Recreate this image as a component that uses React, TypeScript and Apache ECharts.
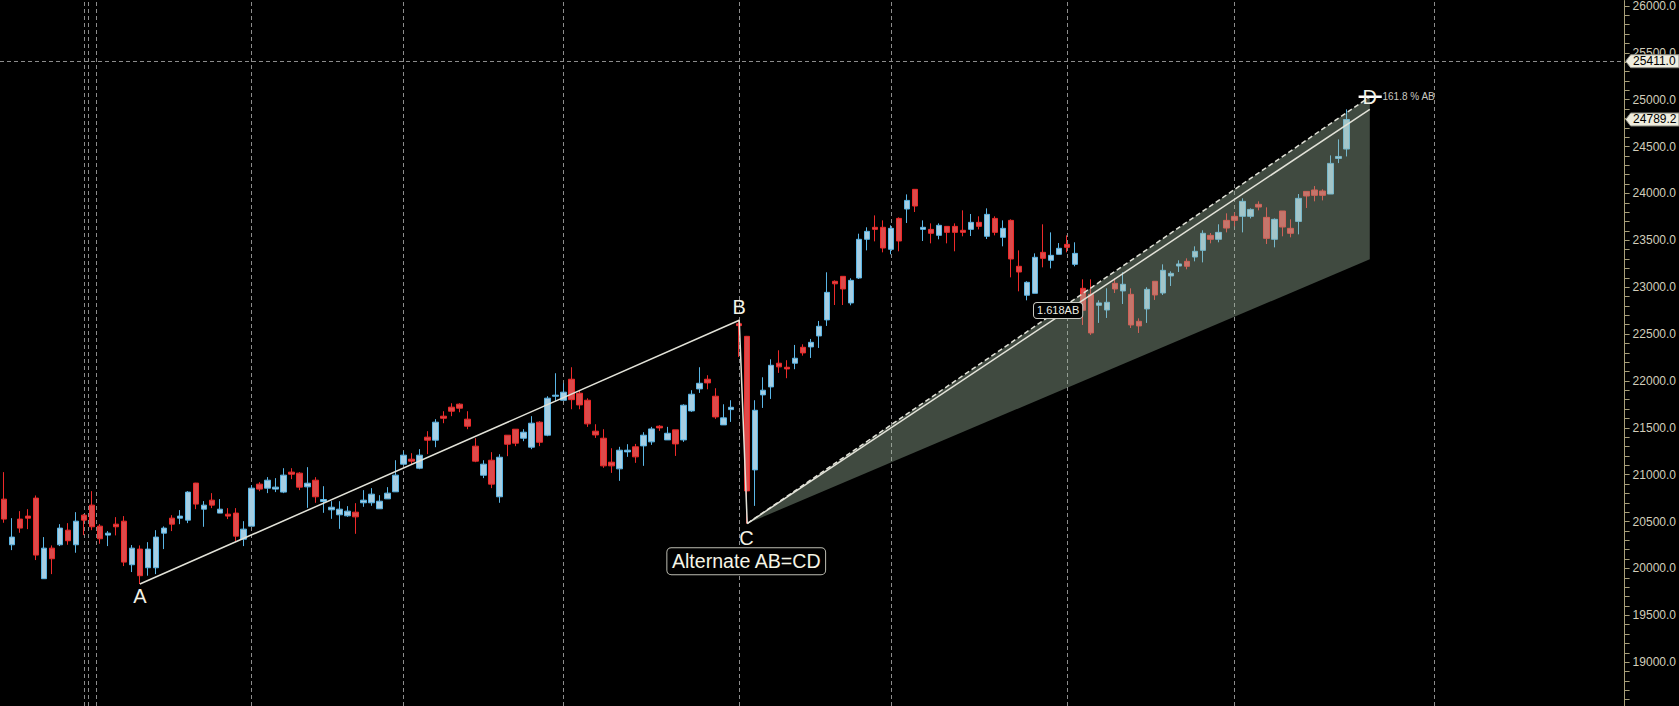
import React, { useEffect, useRef } from "react";
import * as echarts from "echarts";

// ---- Candle data ----
const opens = [
  20739, 20252, 20526, 20558, 20750, 19890, 20216, 20252, 20408, 20252,
  20568, 20675, 20451, 20355, 20472, 20504, 20039, 20206, 20007, 20007,
  20376, 20536, 20536, 20515, 20910, 20632, 20728, 20590, 20579, 20590,
  20312, 20451, 20899, 20856, 20846, 20814, 21027, 21016, 20870, 20941,
  20714, 20625, 20572, 20561, 20600, 20700, 20700, 20636, 20742, 20817,
  21112, 21165, 21069, 21400, 21368, 21624, 21720, 21752, 21592, 21304,
  20994, 21154, 20764, 21421, 21485, 21389, 21293, 21560, 21421, 21837,
  21794, 22018, 21869, 21794, 21464, 21389, 21133, 21062, 21243, 21297,
  21307, 21350, 21517, 21371, 21478, 21371, 21680, 21915, 22018, 21837,
  21531, 21694, 22610, 22476, 21051, 21851, 21936, 22189, 22146, 22189,
  22359, 22363, 22480, 22651, 23063, 23116, 22832, 23098, 23511, 23639,
  23639, 23404, 23734, 23834, 24044, 23617, 23617, 23553, 23649, 23649,
  23607, 23617, 23692, 23543, 23734, 23532, 23713, 23223, 22914, 22935,
  23372, 23287, 23351, 23457, 23244, 22988, 22924, 22807, 22757, 23041,
  22960, 22924, 22636, 22768, 23063, 22938, 23120, 23226, 23276, 23322,
  23393, 23553, 23511, 23713, 23756, 23756, 23756, 23884, 23745, 23511,
  23813, 23628, 23702, 24022, 24037, 24026, 23994, 24374, 24474,
];
const closes = [
  20526, 20334, 20430, 20536, 20142, 20216, 20103, 20430, 20295, 20504,
  20515, 20444, 20316, 20376, 20444, 20067, 20216, 19922, 20206, 20334,
  20430, 20472, 20558, 20814, 20686, 20675, 20675, 20632, 20558, 20344,
  20419, 20856, 20846, 20941, 20867, 20995, 21005, 20867, 20909, 20764,
  20735, 20653, 20632, 20611, 20550, 20728, 20792, 20717, 20803, 20995,
  21208, 21144, 21208, 21368, 21560, 21602, 21677, 21709, 21517, 21144,
  21112, 20899, 21186, 21325, 21336, 21453, 21549, 21346, 21816, 21848,
  21880, 21800, 21744, 21542, 21424, 21094, 21094, 21261, 21261, 21190,
  21421, 21488, 21499, 21442, 21328, 21741, 21858, 21975, 21979, 21616,
  21606, 21719, 22590, 20827, 21687, 21901, 22167, 22150, 22128, 22242,
  22299, 22412, 22583, 22945, 23036, 22981, 23073, 23511, 23596, 23617,
  23418, 23628, 23493, 23926, 23866, 23639, 23575, 23660, 23585, 23585,
  23585, 23692, 23649, 23777, 23585, 23628, 23301, 23162, 23052, 23319,
  23308, 23340, 23415, 23425, 23361, 22754, 22512, 22832, 22839, 22981,
  23031, 22597, 22587, 22977, 22917, 23180, 23148, 23248, 23223, 23383,
  23575, 23511, 23585, 23631, 23713, 23916, 23830, 23855, 23521, 23724,
  23642, 23575, 23948, 23973, 23980, 23980, 24321, 24395, 24789.2,
];
const lows = [
  20487, 20195, 20380, 20419, 20089, 19890, 19939, 20238, 20252, 20167,
  20355, 20408, 20263, 20238, 20352, 20025, 19961, 19833, 19922, 19939,
  20206, 20398, 20472, 20483, 20632, 20444, 20643, 20590, 20526, 20291,
  20238, 20451, 20824, 20803, 20814, 20803, 20952, 20835, 20646, 20700,
  20593, 20529, 20422, 20550, 20369, 20657, 20668, 20636, 20742, 20817,
  21101, 21112, 21058, 21219, 21293, 21549, 21624, 21666, 21485, 21133,
  20963, 20856, 20700, 21197, 21304, 21357, 21272, 21304, 21410, 21784,
  21794, 21698, 21698, 21510, 21392, 21073, 21019, 20934, 21190, 21126,
  21094, 21318, 21467, 21371, 21200, 21350, 21670, 21872, 21911, 21595,
  21531, 21563, 22256, 20479, 20667, 21712, 21808, 22086, 22029, 22125,
  22270, 22245, 22352, 22587, 22810, 22810, 22807, 23088, 23393, 23489,
  23372, 23351, 23383, 23685, 23802, 23493, 23468, 23511, 23468, 23383,
  23543, 23546, 23617, 23514, 23553, 23436, 23105, 22956, 22860, 22935,
  23212, 23201, 23351, 23372, 23223, 22597, 22491, 22619, 22672, 22938,
  22821, 22565, 22512, 22619, 22864, 22917, 23013, 23162, 23191, 23276,
  23265, 23468, 23479, 23585, 23649, 23585, 23734, 23820, 23461, 23425,
  23543, 23532, 23564, 23845, 23916, 23926, 23994, 24324, 24395,
];
const highs = [
  21027, 20536, 20611, 20632, 20778, 20334, 20245, 20472, 20483, 20600,
  20579, 20824, 20472, 20398, 20547, 20558, 20249, 20245, 20280, 20408,
  20448, 20568, 20622, 20824, 20913, 20718, 20803, 20739, 20643, 20643,
  20504, 20888, 20920, 20974, 20963, 21069, 21069, 21027, 21080, 20973,
  20877, 20717, 20717, 20664, 20696, 20835, 20856, 20781, 20867, 21154,
  21250, 21229, 21272, 21464, 21592, 21677, 21762, 21762, 21677, 21389,
  21154, 21240, 21218, 21421, 21485, 21485, 21624, 21570, 21837, 22082,
  21975, 22146, 21901, 21815, 21538, 21485, 21282, 21297, 21325, 21328,
  21453, 21510, 21528, 21510, 21478, 21751, 21901, 22146, 22061, 21922,
  21751, 21794, 22647, 22480, 21794, 22039, 22231, 22327, 22221, 22384,
  22391, 22448, 22640, 23159, 23073, 23116, 23095, 23571, 23639, 23766,
  23713, 23660, 23745, 23990, 24044, 23713, 23681, 23681, 23649, 23681,
  23820, 23781, 23756, 23841, 23756, 23713, 23724, 23393, 23063, 23361,
  23671, 23585, 23471, 23553, 23479, 23084, 23084, 22860, 22988, 23095,
  23159, 22988, 22668, 22999, 23063, 23244, 23169, 23287, 23308, 23436,
  23607, 23578, 23671, 23788, 23798, 23948, 23841, 23916, 23852, 23734,
  23813, 23724, 23994, 24022, 24079, 24044, 24406, 24577, 24897,
];

// total slots on the time axis (candles + empty future space)
const TOTAL_SLOTS = 203;
const categories = Array.from({ length: TOTAL_SLOTS }, (_, i) => `D${i + 1}`);

// ---- Pattern (Alternate AB=CD) ----
const patternLabels = ["A", "B", "C"];
const patternIdx = [17, 92, 93];
const patternVal = [19833, 22647, 20479];
const projEndIdx = 170.9;
const proj1618 = 25032; // 161.8% AB projection (D)
const projInner = 24897;
const projLower = 23297;
const ratioLabelIdx = 131.9;

// ---- Reference lines ----
const gridLineIdx = [10, 10.5, 11.5, 31, 50, 70, 92, 111, 133, 154, 179];
const priceLine = 25411.0;
const lastPrice = 24789.2;

// ---- Axis ----
const yMin = 18532;
const yMax = 26058;
const yTickLabels = [
  19000, 19500, 20000, 20500, 21000, 21500, 22000, 22500, 23000, 23500,
  24000, 24500, 25000, 25500, 26000,
];
const yMinorTicks = Array.from({ length: 75 }, (_, k) => 18600 + 100 * k);

const FONT = "Liberation Sans, Arial, sans-serif";

export default function App() {
  const ref = useRef<HTMLDivElement>(null);

  useEffect(() => {
    const el = ref.current!;
    const chart = echarts.init(el, null, { renderer: "svg" });
    const candles = opens.map((o, i) => [o, closes[i], lows[i], highs[i]]);
    const C = [patternIdx[2], patternVal[2]];

    const option: any = {
      animation: false,
      backgroundColor: "#000",
      grid: { left: -1.3, right: 56.3, top: 0, bottom: 0 },
      xAxis: [
        { type: "category", data: categories, show: false, boundaryGap: true },
        { type: "value", min: -0.5, max: TOTAL_SLOTS - 0.5, show: false },
      ],
      yAxis: {
        type: "value",
        position: "right",
        offset: 2.3,
        min: yMin,
        max: yMax,
        splitLine: { show: false },
        axisLine: {
          show: true,
          onZero: false,
          lineStyle: { color: "#a89f7a", width: 1 },
        },
        axisTick: {
          show: true,
          customValues: yMinorTicks,
          length: 5,
          lineStyle: { color: "#a89f7a" },
        },
        axisLabel: {
          customValues: yTickLabels,
          formatter: (v: number) => v.toFixed(1),
          color: "#d2cebb",
          fontSize: 12,
          fontFamily: FONT,
          margin: 8,
        },
      },
      series: [
        {
          type: "line",
          xAxisIndex: 1,
          yAxisIndex: 0,
          data: [[0, 20000]],
          symbol: "none",
          lineStyle: { opacity: 0 },
          silent: true,
          z: 1,
          markLine: {
            z: 1,
            silent: true,
            symbol: ["none", "none"],
            label: { show: false },
            lineStyle: { color: "#8c8c8c", type: [4, 3], width: 1 },
            data: [
              ...gridLineIdx.map((v) => ({ xAxis: v })),
              { yAxis: priceLine },
            ],
          },
        },
        {
          type: "candlestick",
          xAxisIndex: 0,
          yAxisIndex: 0,
          data: candles,
          barWidth: 6,
          z: 2,
          itemStyle: {
            color: "#a6cee3",
            color0: "#dc4a4a",
            borderColor: "#5ab6e6",
            borderColor0: "#ee2a2a",
            borderWidth: 1,
          },
        },
        {
          type: "custom",
          xAxisIndex: 1,
          yAxisIndex: 0,
          z: 3,
          silent: true,
          data: [[C[0], C[1], projEndIdx, proj1618, projLower]],
          renderItem: (params: any, api: any) => {
            const p0 = api.coord([api.value(0), api.value(1)]);
            const p1 = api.coord([api.value(2), api.value(3)]);
            const p2 = api.coord([api.value(2), api.value(4)]);
            return {
              type: "polygon",
              shape: { points: [p0, p1, p2] },
              style: { fill: "rgba(160,186,160,0.4)" },
            };
          },
        },
        {
          type: "line",
          xAxisIndex: 1,
          yAxisIndex: 0,
          z: 4,
          silent: true,
          symbol: "none",
          lineStyle: { color: "#e2e2d8", width: 1.5 },
          data: patternIdx.map((x, i) => [x, patternVal[i]]),
        },
        {
          type: "line",
          xAxisIndex: 1,
          yAxisIndex: 0,
          z: 4,
          silent: true,
          symbol: "none",
          lineStyle: { color: "#e2e2d8", width: 1.5 },
          data: [C, [projEndIdx, projInner]],
        },
        {
          type: "line",
          xAxisIndex: 1,
          yAxisIndex: 0,
          z: 4,
          silent: true,
          symbol: "none",
          lineStyle: { color: "#e2e2d8", width: 1.5, type: [5, 3] },
          data: [C, [projEndIdx, proj1618]],
        },
        {
          type: "line",
          xAxisIndex: 1,
          yAxisIndex: 0,
          z: 4,
          silent: true,
          symbol: "none",
          lineStyle: { color: "#ffffff", width: 2.5 },
          data: [
            [projEndIdx - 1.4, proj1618],
            [projEndIdx + 1.5, proj1618],
          ],
        },
      ],
    };
    chart.setOption(option);

    const px = (i: number, v: number) =>
      chart.convertToPixel({ xAxisIndex: 1, yAxisIndex: 0 } as any, [i, v]) as number[];
    const W = chart.getWidth();
    const axisX = px(TOTAL_SLOTS - 0.5, yMin)[0] + 2.3;

    const labelOffsets = [11.5, -13, 14];
    const graphics: any[] = [];
    patternLabels.forEach((t, k) => {
      const p = px(patternIdx[k], patternVal[k]);
      graphics.push({
        type: "text",
        z: 100,
        x: p[0] - (k === 2 ? 0.7 : 0),
        y: p[1] + labelOffsets[k],
        style: {
          text: t,
          fill: "#f2f2e6",
          fontSize: 20,
          fontFamily: FONT,
          align: "center",
          verticalAlign: "middle",
        },
      });
    });
    const pD = px(projEndIdx, proj1618);
    graphics.push({
      type: "text",
      z: 100,
      x: pD[0],
      y: pD[1] + 0.5,
      style: {
        text: "D",
        fill: "#f2f2e6",
        fontSize: 20,
        fontFamily: FONT,
        align: "center",
        verticalAlign: "middle",
      },
    });
    graphics.push({
      type: "text",
      z: 100,
      x: pD[0] + 12.7,
      y: pD[1],
      style: {
        text: "161.8 % AB",
        fill: "#c8c8c0",
        fontSize: 10,
        fontFamily: FONT,
        align: "left",
        verticalAlign: "middle",
      },
    });
    const pC = px(C[0], C[1]);
    graphics.push({
      type: "text",
      z: 100,
      x: pC[0] - 1,
      y: pC[1] + 37.7,
      style: {
        text: "Alternate AB=CD",
        fill: "#f4f4e6",
        fontSize: 19.6,
        fontFamily: FONT,
        align: "center",
        verticalAlign: "middle",
        backgroundColor: "#000",
        borderColor: "#bdbdb2",
        borderWidth: 1,
        borderRadius: 4,
        padding: [3, 4, 3, 4],
      },
    });
    const ratioVal =
      C[1] + ((proj1618 - C[1]) * (ratioLabelIdx - C[0])) / (projEndIdx - C[0]);
    const pR = px(ratioLabelIdx, ratioVal);
    graphics.push({
      type: "text",
      z: 100,
      x: pR[0],
      y: pR[1],
      style: {
        text: "1.618AB",
        fill: "#ececE2",
        fontSize: 11,
        fontFamily: FONT,
        align: "center",
        verticalAlign: "middle",
        backgroundColor: "#000",
        borderColor: "#c8c8c0",
        borderWidth: 1,
        borderRadius: 3,
        padding: [2, 3, 2, 3],
      },
    });
    [priceLine, lastPrice].forEach((v) => {
      const y = px(0, v)[1];
      graphics.push({
        type: "polygon",
        z: 100,
        shape: {
          points: [
            [axisX + 1, y],
            [axisX + 6, y - 6.5],
            [W, y - 6.5],
            [W, y + 6.5],
            [axisX + 6, y + 6.5],
          ],
        },
        style: { fill: "#efeddf", stroke: "#8a8a80", lineWidth: 1 },
      });
      graphics.push({
        type: "text",
        z: 101,
        x: axisX + 8.5,
        y: y,
        style: {
          text: v.toFixed(1),
          fill: "#000",
          fontSize: 12,
          fontFamily: FONT,
          align: "left",
          verticalAlign: "middle",
        },
      });
    });
    chart.setOption({ graphic: graphics });

    return () => chart.dispose();
  }, []);

  return (
    <div
      ref={ref}
      style={{
        position: "fixed",
        left: 0,
        top: 0,
        width: 1679,
        height: 706,
        background: "#000",
      }}
    />
  );
}
